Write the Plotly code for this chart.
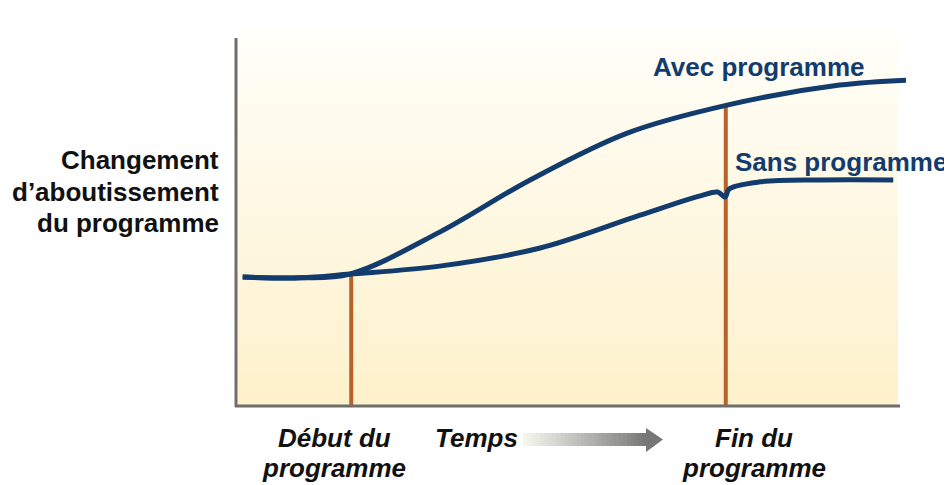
import plotly.graph_objects as go

# ---- data (time axis 0..100, outcome axis 0..100) ----
avec_x = [1.0, 9.6, 17.0, 30.4, 43.9, 58.4, 73.3, 90.1, 100.0]
avec_y = [34.1, 33.9, 34.9, 46.0, 59.8, 72.2, 79.6, 84.9, 86.2]

sans_x = [1.0, 9.6, 17.0, 30.4, 45.4, 60.3, 69.3, 71.9, 73.0, 73.6, 78.2, 87.2, 98.1]
sans_y = [34.1, 33.9, 34.9, 37.0, 41.8, 50.5, 55.6, 56.6, 55.3, 57.4, 59.3, 59.8, 59.8]

marker_x = [17.2, 73.1]          # début / fin du programme
marker_top = [34.9, 79.6]

series_labels = ["Avec programme", "Sans programme"]
y_title_lines = ["Changement", "d’aboutissement", "du programme"]
x_labels = [["Début du", "programme"], ["Temps"], ["Fin du", "programme"]]

NAVY = "#123c6e"
ORANGE = "#b8622a"
AXIS = "#6e6e6e"

fig = go.Figure()

for mx, mt in zip(marker_x, marker_top):
    fig.add_trace(go.Scatter(x=[mx, mx], y=[0, mt], mode="lines",
                             line=dict(color=ORANGE, width=4), hoverinfo="skip", showlegend=False))

fig.add_trace(go.Scatter(x=sans_x, y=sans_y, mode="lines", name=series_labels[1],
                         line=dict(color=NAVY, width=5, shape="spline", smoothing=1.0), showlegend=False))
fig.add_trace(go.Scatter(x=avec_x, y=avec_y, mode="lines", name=series_labels[0],
                         line=dict(color=NAVY, width=5, shape="spline", smoothing=1.0), showlegend=False))

# page body has an 8px margin: work in reference pixel coords and shift
OFF = 8
W, H = 952 - OFF, 485 - OFF
L, R, T, B = 236, 906, 28, 406      # plot area in reference pixels
pw, ph = R - L, B - T

def px(xp):
    return (xp - L) / pw

def py(yp):
    return (B - yp) / ph

shapes = []
# background vertical gradient
n = 60
c0 = (255, 254, 249)
c1 = (254, 241, 203)
for i in range(n):
    t = i / (n - 1)
    c = tuple(round(c0[k] + (c1[k] - c0[k]) * t) for k in range(3))
    y_top = T + (B - T) * i / n
    y_bot = T + (B - T) * (i + 1) / n + 0.5
    shapes.append(dict(type="rect", xref="paper", yref="paper", layer="below",
                       x0=px(237), x1=px(898), y0=py(y_bot), y1=py(y_top),
                       fillcolor="rgb(%d,%d,%d)" % c, line=dict(width=0)))
# axes lines
shapes.append(dict(type="line", xref="paper", yref="paper", x0=px(236), x1=px(236),
                   y0=py(407), y1=py(38), line=dict(color=AXIS, width=3)))
shapes.append(dict(type="line", xref="paper", yref="paper", x0=px(235), x1=px(900),
                   y0=py(406), y1=py(406), line=dict(color=AXIS, width=3)))
# arrow shaft gradient
m = 30
s0, s1 = 523, 647
g0 = (245, 245, 240)
g1 = (120, 120, 120)
for i in range(m):
    t = i / (m - 1)
    c = tuple(round(g0[k] + (g1[k] - g0[k]) * t) for k in range(3))
    xa = s0 + (s1 - s0) * i / m
    xb = s0 + (s1 - s0) * (i + 1) / m + 0.5
    shapes.append(dict(type="rect", xref="paper", yref="paper",
                       x0=px(xa), x1=px(xb), y0=py(446), y1=py(433),
                       fillcolor="rgb(%d,%d,%d)" % c, line=dict(width=0)))
# arrow head
shapes.append(dict(type="path", xref="paper", yref="paper",
                   path="M %f,%f L %f,%f L %f,%f Z" % (px(646), py(428), px(663), py(439.5), px(646), py(452)),
                   fillcolor="rgb(118,118,118)", line=dict(width=0)))

FS = 26
DARK = "#111111"
annotations = []

def add(text, x, y, color, xanchor="center"):
    annotations.append(dict(text=text, x=px(x), y=py(y), xref="paper", yref="paper",
                            showarrow=False, xanchor=xanchor, yanchor="middle",
                            font=dict(size=FS, color=color)))

add("<b>%s</b>" % series_labels[0], 758, 67, NAVY)
add("<b>%s</b>" % series_labels[1], 841, 162, NAVY)
for line, yy in zip(y_title_lines, [160, 192, 223]):
    add("<b>%s</b>" % line, 221, yy, DARK, xanchor="right")
for lines, xx in zip(x_labels, [334, 476, 754]):
    for j, line in enumerate(lines):
        add("<b><i>%s</i></b>" % line, xx, 438 + 30 * j, DARK)

fig.update_layout(
    width=W, height=H,
    margin=dict(l=L - OFF, r=W - (R - OFF), t=T - OFF, b=H - (B - OFF), pad=0),
    paper_bgcolor="white", plot_bgcolor="rgba(0,0,0,0)",
    font=dict(family="Liberation Sans, Arial, sans-serif"),
    xaxis=dict(range=[0, 100], visible=False, fixedrange=True),
    yaxis=dict(range=[0, 100], visible=False, fixedrange=True),
    shapes=shapes, annotations=annotations,
    showlegend=False,
)

fig.write_html("out.html")
